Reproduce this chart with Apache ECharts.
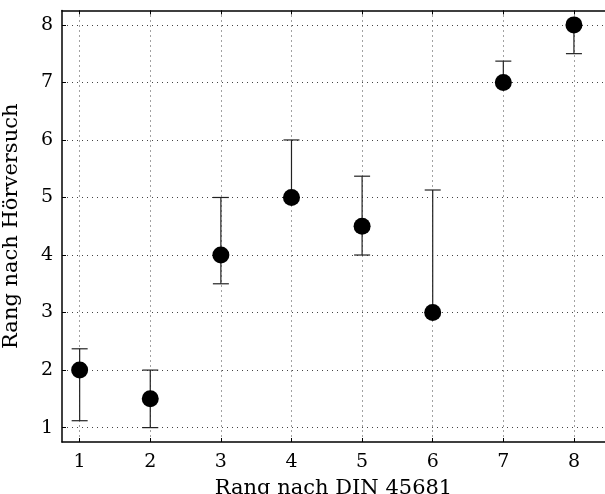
<!DOCTYPE html>
<html>
<head>
<meta charset="utf-8">
<script src="https://cdn.jsdelivr.net/npm/echarts@6/dist/echarts.min.js"></script>
<style>
  html, body { margin: 0; padding: 0; background: #fff; }
  #chart { width: 605px; height: 494px; }
</style>
</head>
<body>
<div id="chart"></div>
<script>
// Rang nach DIN 45681 vs. Rang nach Hörversuch
const xRank = [1, 2, 3, 4, 5, 6, 7, 8];
const yRank = [2, 1.5, 4, 5, 4.5, 3, 7, 8];
const errLow = [1.12, 1.0, 3.5, 5.0, 4.0, 3.0, 7.0, 7.5];
const errHigh = [2.37, 2.0, 5.0, 6.0, 5.37, 5.13, 7.37, 8.0];
const xTicks = [1, 2, 3, 4, 5, 6, 7, 8];
const yTicks = [1, 2, 3, 4, 5, 6, 7, 8];

const font = '"DejaVu Serif", "Liberation Serif", serif';

const chart = echarts.init(document.getElementById('chart'));

const points = xRank.map((x, i) => [x, yRank[i]]);
const bars = xRank.map((x, i) => [x, errLow[i], errHigh[i]]);

const gridLine = { show: true, lineStyle: { color: '#444', width: 1, type: [1, 4] } };

const option = {
  animation: false,
  grid: { left: 62, top: 10.5, right: 0, bottom: 52, outerBoundsMode: 'none' },
  xAxis: [
    {
      type: 'value',
      min: 0.75,
      max: 8.44,
      name: 'Rang nach DIN 45681',
      nameLocation: 'middle',
      nameGap: 36,
      nameTextStyle: { fontFamily: font, fontSize: 21, color: '#000' },
      axisLine: { onZero: false, lineStyle: { color: '#000', width: 1.5 } },
      axisTick: { inside: true, length: 4, customValues: xTicks, lineStyle: { color: '#000' } },
      axisLabel: { customValues: xTicks, margin: 11, fontFamily: font, fontSize: 19, color: '#000' },
      splitLine: gridLine
    },
    {
      type: 'value',
      position: 'top',
      min: 0.75,
      max: 8.44,
      axisLine: { onZero: false, lineStyle: { color: '#000', width: 1.5 } },
      axisTick: { inside: true, length: 4, customValues: xTicks, lineStyle: { color: '#000' } },
      axisLabel: { show: false },
      splitLine: { show: false }
    }
  ],
  yAxis: {
    type: 'value',
    min: 0.75,
    max: 8.25,
    name: 'Rang nach Hörversuch',
    nameLocation: 'middle',
    nameGap: 40,
    nameTextStyle: { fontFamily: font, fontSize: 21, color: '#000' },
    axisLine: { show: true, onZero: false, lineStyle: { color: '#000', width: 1.5 } },
    axisTick: { show: true, inside: true, length: 4, customValues: yTicks, lineStyle: { color: '#000' } },
    axisLabel: { customValues: yTicks, margin: 9, fontFamily: font, fontSize: 19, color: '#000' },
    splitLine: gridLine
  },
  series: [
    {
      type: 'custom',
      z: 2,
      data: bars,
      renderItem: (params, api) => {
        const x = api.value(0);
        const lo = api.coord([x, api.value(1)]);
        const hi = api.coord([x, api.value(2)]);
        const half = 8;
        const style = { stroke: '#222', lineWidth: 1.2 };
        return {
          type: 'group',
          children: [
            { type: 'line', shape: { x1: lo[0], y1: lo[1], x2: hi[0], y2: hi[1] }, style },
            { type: 'line', shape: { x1: lo[0] - half, y1: lo[1], x2: lo[0] + half, y2: lo[1] }, style },
            { type: 'line', shape: { x1: hi[0] - half, y1: hi[1], x2: hi[0] + half, y2: hi[1] }, style }
          ]
        };
      }
    },
    {
      type: 'scatter',
      z: 3,
      data: points,
      symbol: 'circle',
      symbolSize: 17,
      itemStyle: { color: '#000', opacity: 1 }
    }
  ]
};

chart.setOption(option);
</script>
</body>
</html>
